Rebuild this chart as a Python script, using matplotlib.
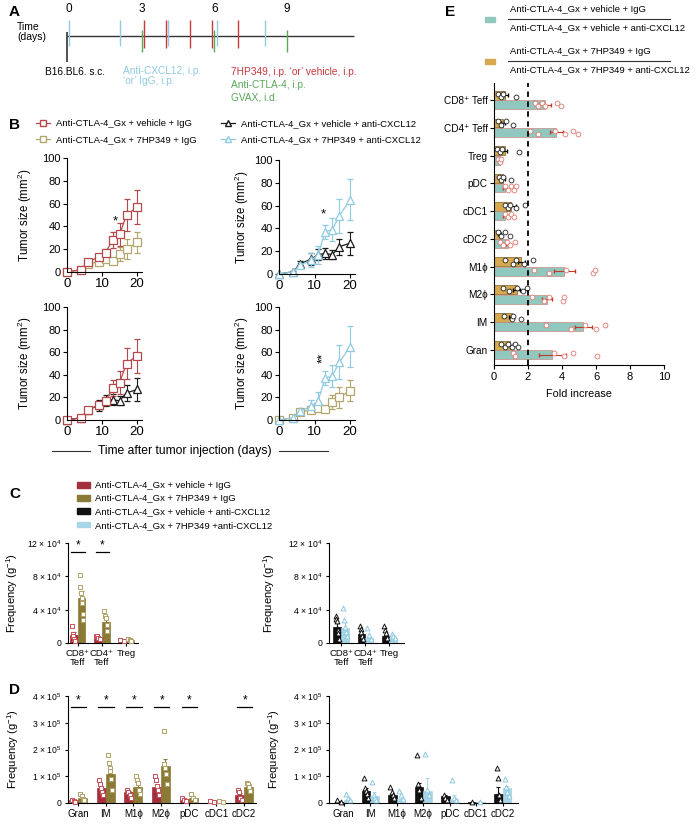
import numpy as np
import matplotlib
matplotlib.use('Agg')
import matplotlib.pyplot as plt
from matplotlib.lines import Line2D
from matplotlib.patches import Patch, Rectangle

plt.rcParams['font.family'] = ['Liberation Sans', 'DejaVu Sans']
plt.rcParams['axes.linewidth'] = 0.8
plt.rcParams['mathtext.default'] = 'regular'

# ---- colours
RED = '#b5484b'
OLIVE = '#b3a66d'
BLUE = '#8fcbe2'
BLACK = '#1a1a1a'
GREEN = '#5aa85a'
BAR_RED, PT_RED = '#a3303c', '#c8505c'
BAR_OLIVE, PT_OLIVE = '#8b7a36', '#b2a36a'
BAR_BLACK, PT_BLACK = '#111111', '#111111'
BAR_BLUE, PT_BLUE = '#a6d6e8', '#8ec8e0'
TAN = '#d6a94e'
TEAL = '#90c7bf'

LAB1 = 'Anti-CTLA-4_Gx + vehicle + IgG'
LAB2 = 'Anti-CTLA-4_Gx + 7HP349 + IgG'
LAB3 = 'Anti-CTLA-4_Gx + vehicle + anti-CXCL12'
LAB4 = 'Anti-CTLA-4_Gx + 7HP349 + anti-CXCL12'

# ---- A: treatment schedule (days)
cxcl12_days = [0, 2.1, 4.1, 6.1, 8.1]
hp349_days = [3.1, 4.0, 5.0, 5.9, 7.0]
ctla4_days = [3.0, 6.0, 9.0]

# ---- B: tumour growth
days = [0, 4, 6, 9, 11, 13, 15, 17, 20]
veh_igg = [0, 2, 9, 13, 17, 28, 33, 50, 57]
veh_igg_err = [0, 1, 2, 3, 3, 7, 10, 14, 15]
hp_igg = [0, 2, 7, 9, 11, 10, 16, 20, 26]
hp_igg_err = [0, 1, 1, 2, 2, 2, 6, 9, 9]
veh_cx = [0, 2, 9, 13, 17, 18, 17, 24, 27]
veh_cx_err = [0, 1, 2, 5, 5, 5, 4, 7, 10]
hp_cx = [0, 2, 8, 12, 17, 37, 39, 51, 65]
hp_cx_err = [0, 1, 2, 6, 8, 6, 10, 15, 18]

# ---- C: T cells (x 10^4 per g)
c_cats = ['CD8⁺\nTeff', 'CD4⁺\nTeff', 'Treg']
c_veh_igg = [1.0, 0.7, 0.3]
c_veh_igg_err = [0.3, 0.1, 0.05]
c_veh_igg_pts = [[2.0, 1.1, 0.8, 0.5, 0.3, 0.2], [0.9, 0.8, 0.6, 0.5], [0.4, 0.3]]
c_hp_igg = [5.4, 2.5, 0.35]
c_hp_igg_err = [0.8, 0.6, 0.05]
c_hp_igg_pts = [[8.2, 6.7, 6.0, 5.4, 4.8, 3.5, 2.8], [3.8, 3.3, 3.0, 2.2, 1.5], [0.45, 0.35, 0.3]]
c_veh_cx = [1.9, 1.1, 0.8]
c_veh_cx_err = [0.5, 0.3, 0.3]
c_veh_cx_pts = [[3.2, 2.9, 2.6, 1.6, 1.2, 0.5], [2.0, 1.7, 1.3, 0.9, 0.5], [2.0, 1.6, 1.2, 0.6]]
c_hp_cx = [1.8, 0.6, 0.6]
c_hp_cx_err = [0.7, 0.3, 0.2]
c_hp_cx_pts = [[4.2, 2.8, 1.9, 1.3, 0.9], [1.8, 1.0, 0.5], [1.1, 0.9, 0.6]]
c_sig = [0, 1]

# ---- D: myeloid cells (x 10^5 per g)
d_cats = ['Gran', 'IM', 'M1ϕ', 'M2ϕ', 'pDC', 'cDC1', 'cDC2']
d_veh_igg = [0.1, 0.55, 0.4, 0.6, 0.15, 0.05, 0.3]
d_veh_igg_err = [0.02, 0.1, 0.05, 0.1, 0.03, 0.01, 0.08]
d_veh_igg_pts = [[0.12, 0.08, 0.05], [0.85, 0.7, 0.55, 0.4, 0.3], [0.5, 0.4, 0.3, 0.2],
                 [1.0, 0.85, 0.65, 0.5, 0.3], [0.17, 0.12, 0.06], [0.06, 0.04], [0.5, 0.4, 0.2, 0.1]]
d_hp_igg = [0.2, 1.1, 0.6, 1.4, 0.2, 0.06, 0.6]
d_hp_igg_err = [0.06, 0.3, 0.1, 0.25, 0.05, 0.01, 0.1]
d_hp_igg_pts = [[0.35, 0.25, 0.15, 0.1], [1.8, 1.5, 1.3, 1.2, 0.9, 0.5], [1.0, 0.85, 0.75, 0.5, 0.35],
                [2.7, 1.45, 1.3, 1.1, 0.7], [0.35, 0.2, 0.1], [0.07, 0.05], [0.75, 0.7, 0.6, 0.45]]
d_veh_cx = [0.05, 0.45, 0.3, 0.6, 0.25, 0.02, 0.35]
d_veh_cx_err = [0.02, 0.1, 0.05, 0.15, 0.05, 0.01, 0.25]
d_veh_cx_pts = [[0.1, 0.05], [0.95, 0.55, 0.45, 0.35, 0.2], [0.6, 0.4, 0.3, 0.2],
                [1.8, 0.7, 0.5, 0.2], [0.3, 0.2, 0.1], [0.04], [1.3, 0.95, 0.3, 0.1]]
d_hp_cx = [0.1, 0.25, 0.15, 0.45, 0.15, 0.02, 0.55]
d_hp_cx_err = [0.05, 0.15, 0.1, 0.5, 0.15, 0.01, 0.1]
d_hp_cx_pts = [[0.35, 0.2, 0.1], [0.8, 0.3, 0.2, 0.1], [0.45, 0.3, 0.15],
               [1.85, 0.5, 0.3], [0.85, 0.2, 0.1], [0.03], [0.9, 0.6, 0.4, 0.25]]
d_sig = [0, 1, 2, 3, 4, 6]

# ---- E: fold increase
e_cats = ['CD8⁺ Teff', 'CD4⁺ Teff', 'Treg', 'pDC', 'cDC1', 'cDC2', 'M1ϕ', 'M2ϕ', 'IM', 'Gran']
e_hp = [0.63, 0.53, 0.63, 0.53, 1.02, 0.34, 1.6, 1.34, 1.04, 0.94]
e_hp_err = [0.2, 0.1, 0.15, 0.1, 0.3, 0.1, 0.2, 0.2, 0.15, 0.15]
e_hp_pts = [[0.24, 0.43, 0.53, 1.31], [0.24, 0.43, 0.73, 1.1], [0.18, 0.33, 0.47, 1.45],
            [0.27, 0.43, 0.53, 1.02], [0.63, 0.82, 0.92, 1.31, 1.8], [0.24, 0.44, 0.64, 0.94],
            [0.64, 1.14, 1.3, 1.74, 2.28], [0.5, 0.9, 1.34, 1.7, 1.94], [0.58, 1.04, 1.14, 1.58],
            [0.44, 0.64, 0.84, 1.04, 1.24, 1.44]]
e_veh = [2.98, 3.67, 0.33, 0.63, 0.63, 0.8, 4.14, 3.14, 5.24, 3.44]
e_veh_err = [0.38, 0.4, 0.05, 0.1, 0.1, 0.1, 0.6, 0.3, 0.5, 0.8]
e_veh_pts = [[2.4, 2.6, 2.8, 3.0, 3.7, 3.96], [2.1, 2.6, 3.6, 4.16, 4.65, 4.94], [0.24, 0.33, 0.43],
             [0.63, 0.82, 1.02, 1.2, 1.3], [0.63, 0.82, 1.02, 1.2], [0.34, 0.54, 0.74, 0.94, 1.24],
             [2.34, 3.24, 4.24, 5.84, 5.94], [2.24, 2.94, 3.24, 4.04, 4.14], [3.08, 4.5, 5.34, 6.0, 6.54],
             [1.14, 1.24, 3.54, 4.14, 4.64, 6.04]]

W, H = 700, 827
fig = plt.figure(figsize=(7, 8.27), dpi=100)


def add_ax(x0, y0, x1, y1):
    return fig.add_axes([x0 / W, 1 - y1 / H, (x1 - x0) / W, (y1 - y0) / H])


def clean(ax):
    ax.spines['top'].set_visible(False)
    ax.spines['right'].set_visible(False)


# overlay in pixel units for panel letters and annotations
ov = fig.add_axes([0, 0, 1, 1])
ov.set_xlim(0, W)
ov.set_ylim(H, 0)
ov.axis('off')
for letter, x, y in [('A', 9, 12), ('B', 9, 125), ('C', 9, 494), ('D', 9, 690), ('E', 445, 12)]:
    ov.text(x, y, letter, fontsize=11, fontweight='bold', va='center', ha='left')

# ---------------- A
axA = add_ax(60, 15, 355, 62)
axA.set_xlim(-0.385, 11.83)
axA.set_ylim(62, 15)
axA.axis('off')
axA.hlines(36, -0.1, 11.8, color='#333333', lw=1)
axA.vlines(-0.09, 32, 62, color='#333333', lw=1.2)
axA.vlines(cxcl12_days, 20, 46, color=BLUE, lw=1)
axA.vlines(hp349_days, 20, 48, color='#c8383c', lw=1)
axA.vlines(ctla4_days, 30, 52, color=GREEN, lw=1)
for d in [0, 3, 6, 9]:
    axA.text(d, 9, str(d), ha='center', va='center', fontsize=8.5)
ov.text(17, 32, 'Time\n(days)', fontsize=7.5, va='center', ha='left', linespacing=1.05)
ov.text(45, 72, 'B16.BL6. s.c.', fontsize=7.3, va='center')
ov.text(123, 76, 'Anti-CXCL12, i.p.\n\u2018or\u2019 IgG, i.p.', fontsize=7.3, va='center',
        color=BLUE, linespacing=1.1)
ov.text(231, 72, '7HP349, i.p. \u2018or\u2019 vehicle, i.p.', fontsize=7.3, va='center', color='#c8383c')
ov.text(231, 85, 'Anti-CTLA-4, i.p.', fontsize=7.3, va='center', color=GREEN)
ov.text(231, 98, 'GVAX, i.d.', fontsize=7.3, va='center', color=GREEN)

# ---------------- B


def tumor(ax, series, ylab_x):
    handles = []
    for y, e, c, m in series:
        h = ax.errorbar(days, y, yerr=e, color=c, marker=m, mfc='white', mec=c, ms=5.5, mew=0.9,
                        lw=0.9, capsize=2, elinewidth=0.8, clip_on=False)
        handles.append(h)
    ax.set_xlim(0, 21.4)
    ax.set_ylim(0, 100)
    ax.set_xticks([0, 10, 20])
    ax.set_yticks([0, 20, 40, 60, 80, 100])
    ax.tick_params(axis='y', labelsize=8, length=3, width=0.8, pad=1.5)
    ax.tick_params(axis='x', labelsize=9.5, length=3, width=0.8, pad=1.5)
    ax.set_ylabel('Tumor size (mm$^2$)', fontsize=8.3)
    ax.yaxis.set_label_coords(ylab_x, 0.5)
    clean(ax)
    return handles


axTL = add_ax(67, 158, 142, 272)
tumor(axTL, [(hp_igg, hp_igg_err, OLIVE, 's'), (veh_igg, veh_igg_err, RED, 's')], -0.44)
axTL.text(13.8, 44, '*', ha='center', va='center', fontsize=9.5)
axTR = add_ax(279, 160, 355, 274)
tumor(axTR, [(veh_cx, veh_cx_err, BLACK, '^'), (hp_cx, hp_cx_err, BLUE, '^')], -0.37)
axTR.text(12.5, 52, '*', ha='center', va='center', fontsize=9.5)
axBL = add_ax(67, 307, 142, 420)
tumor(axBL, [(veh_cx, veh_cx_err, BLACK, '^'), (veh_igg, veh_igg_err, RED, 's')], -0.44)
axBR = add_ax(279, 307, 355, 420)
tumor(axBR, [(hp_igg, hp_igg_err, OLIVE, 's'), (hp_cx, hp_cx_err, BLUE, '^')], -0.37)
axBR.text(12.5, 55, '**', ha='center', va='center', fontsize=9.5, rotation=90)

leg_handles = [Line2D([], [], color=c, marker=m, mfc='white', mec=c, ms=4.5, lw=0.9)
               for c, m in [(RED, 's'), (OLIVE, 's'), (BLACK, '^'), (BLUE, '^')]]
fig.legend(leg_handles, [LAB1, LAB2, LAB3, LAB4], loc='upper left', bbox_to_anchor=(36 / W, 1 - 119 / H),
           ncol=2, frameon=False, fontsize=6.8, handlelength=1.5, handletextpad=0.6,
           columnspacing=2.6, labelspacing=0.8, borderpad=0, borderaxespad=0)

ov.text(185, 451, 'Time after tumor injection (days)', ha='center', va='center', fontsize=8.7)
ov.plot([52, 90], [451, 451], color='#333333', lw=0.8)
ov.plot([279, 328], [451, 451], color='#333333', lw=0.8)

# ---------------- C and D


def spread(center, n, half):
    if n == 1:
        return np.array([center])
    return center + np.linspace(-half, half, n)


def bars(ax, cats, groups, marker, ymax, ticks, exp, sig, sig_y, ylab_x, xlabsize):
    x = np.arange(len(cats))
    for k, (mean, err, pts, bc, pc) in enumerate(groups):
        off = -0.16 if k == 0 else 0.16
        ax.bar(x + off, mean, width=0.32, color=bc, edgecolor=bc, lw=0.5, zorder=2)
        ax.errorbar(x + off, mean, yerr=[np.zeros(len(mean)), err], fmt='none', ecolor=bc,
                    capsize=1.5, elinewidth=0.8, capthick=0.8, zorder=3)
        for i, p in enumerate(pts):
            ax.scatter(spread(x[i] + off, len(p), 0.07), p, marker=marker, s=12, facecolor='white',
                       edgecolor=pc, lw=0.7, zorder=4, clip_on=False)
    for i in sig:
        ax.plot([i - 0.26, i + 0.3], [sig_y, sig_y], color='black', lw=0.9)
        ax.text(i + 0.02, sig_y + ymax * 0.005, '*', ha='center', va='bottom', fontsize=8.5)
    ax.set_ylim(0, ymax)
    ax.set_yticks(ticks)
    ax.set_yticklabels(['0'] + ['%d × 10$^{%d}$' % (t, exp) for t in ticks[1:]], fontsize=6.2)
    ax.set_xticks(x)
    ax.set_xticklabels(cats, fontsize=xlabsize, linespacing=1.0)
    ax.tick_params(axis='y', length=2.5, width=0.8, pad=2)
    ax.tick_params(axis='x', length=2.5, width=0.8, pad=1.5)
    ax.set_ylabel('Frequency (g$^{-1}$)', fontsize=8)
    ax.yaxis.set_label_coords(ylab_x, 0.5)
    clean(ax)


axCL = add_ax(68, 543, 138, 643)
bars(axCL, c_cats, [(c_veh_igg, c_veh_igg_err, c_veh_igg_pts, BAR_RED, PT_RED),
                    (c_hp_igg, c_hp_igg_err, c_hp_igg_pts, BAR_OLIVE, PT_OLIVE)],
     's', 12, [0, 4, 8, 12], 4, c_sig, 10.9, -0.69, 6.8)
axCL.set_xlim(-0.4, 2.5)
axCR = add_ax(329, 543, 404, 643)
bars(axCR, c_cats, [(c_veh_cx, c_veh_cx_err, c_veh_cx_pts, BAR_BLACK, PT_BLACK),
                    (c_hp_cx, c_hp_cx_err, c_hp_cx_pts, BAR_BLUE, PT_BLUE)],
     '^', 12, [0, 4, 8, 12], 4, [], 0, -0.69, 6.8)
axCR.set_xlim(-0.5, 2.6)

c_handles = [Patch(color=c) for c in [BAR_RED, BAR_OLIVE, BAR_BLACK, BAR_BLUE]]
fig.legend(c_handles, [LAB1, LAB2, LAB3, 'Anti-CTLA-4_Gx + 7HP349 +anti-CXCL12'], loc='upper left',
           bbox_to_anchor=(77 / W, 1 - 481 / H), frameon=False, fontsize=6.8, handlelength=1.4,
           handleheight=0.55, handletextpad=0.5, labelspacing=0.45, borderpad=0, borderaxespad=0)

axDL = add_ax(68, 696, 256, 803)
bars(axDL, d_cats, [(d_veh_igg, d_veh_igg_err, d_veh_igg_pts, BAR_RED, PT_RED),
                    (d_hp_igg, d_hp_igg_err, d_hp_igg_pts, BAR_OLIVE, PT_OLIVE)],
     's', 4, [0, 1, 2, 3, 4], 5, d_sig, 3.6, -0.25, 7)
axDL.set_xlim(-0.36, 6.43)
axDR = add_ax(329, 696, 518, 803)
bars(axDR, d_cats, [(d_veh_cx, d_veh_cx_err, d_veh_cx_pts, BAR_BLACK, PT_BLACK),
                    (d_hp_cx, d_hp_cx_err, d_hp_cx_pts, BAR_BLUE, PT_BLUE)],
     '^', 4, [0, 1, 2, 3, 4], 5, [], 0, -0.25, 7)
axDR.set_xlim(-0.55, 6.58)

# ---------------- E
axE = add_ax(494, 83, 664, 365)
ye = np.arange(len(e_cats))
axE.barh(ye - 0.17, e_hp, height=0.32, color=TAN, edgecolor='#7a6228', lw=0.5, zorder=2)
axE.barh(ye + 0.17, e_veh, height=0.32, color=TEAL, edgecolor='#c98a80', lw=0.5, zorder=2)
axE.errorbar(e_hp, ye - 0.17, xerr=e_hp_err, fmt='none', ecolor='black', capsize=1.5,
             elinewidth=0.8, zorder=3)
axE.errorbar(e_veh, ye + 0.17, xerr=e_veh_err, fmt='none', ecolor='#c0392b', capsize=1.5,
             elinewidth=0.8, zorder=3)
for i in range(len(e_cats)):
    p = e_hp_pts[i]
    jit = np.where(np.arange(len(p)) % 2 == 0, -0.06, 0.06)
    axE.scatter(p, ye[i] - 0.17 + jit, s=12, facecolor='white', edgecolor='#222222', lw=0.6, zorder=4)
    p = e_veh_pts[i]
    jit = np.where(np.arange(len(p)) % 2 == 0, -0.06, 0.06)
    axE.scatter(p, ye[i] + 0.17 + jit, s=12, facecolor='white', edgecolor='#e07a70', lw=0.6, zorder=4)
axE.axvline(2, color='black', lw=1.3, ls=(0, (3, 2.5)), zorder=5)
axE.set_xlim(0, 10)
axE.set_ylim(9.54, -0.61)
axE.set_yticks(ye)
axE.set_yticklabels(e_cats, fontsize=7.2)
axE.set_xticks([0, 2, 4, 6, 8, 10])
axE.tick_params(axis='x', labelsize=8, length=3, width=0.8, pad=2)
axE.tick_params(axis='y', length=3, width=0.8, pad=1.5)
axE.set_xlabel('Fold increase', fontsize=7.8)
axE.xaxis.set_label_coords(0.5, -0.085)
clean(axE)

# E legend: ratio labels
for color, ytop, num, den in [(TEAL, 9, LAB1, LAB3), (TAN, 51, LAB2, LAB4)]:
    ov.add_patch(Rectangle((485, ytop + 7.5), 10, 5, color=color))
    ov.text(510, ytop, num, fontsize=6.8, va='center', ha='left')
    ov.plot([508, 670], [ytop + 10, ytop + 10], color='#333333', lw=0.8)
    ov.text(510, ytop + 18.5, den, fontsize=6.8, va='center', ha='left')

fig.savefig('out.png', dpi=100)
